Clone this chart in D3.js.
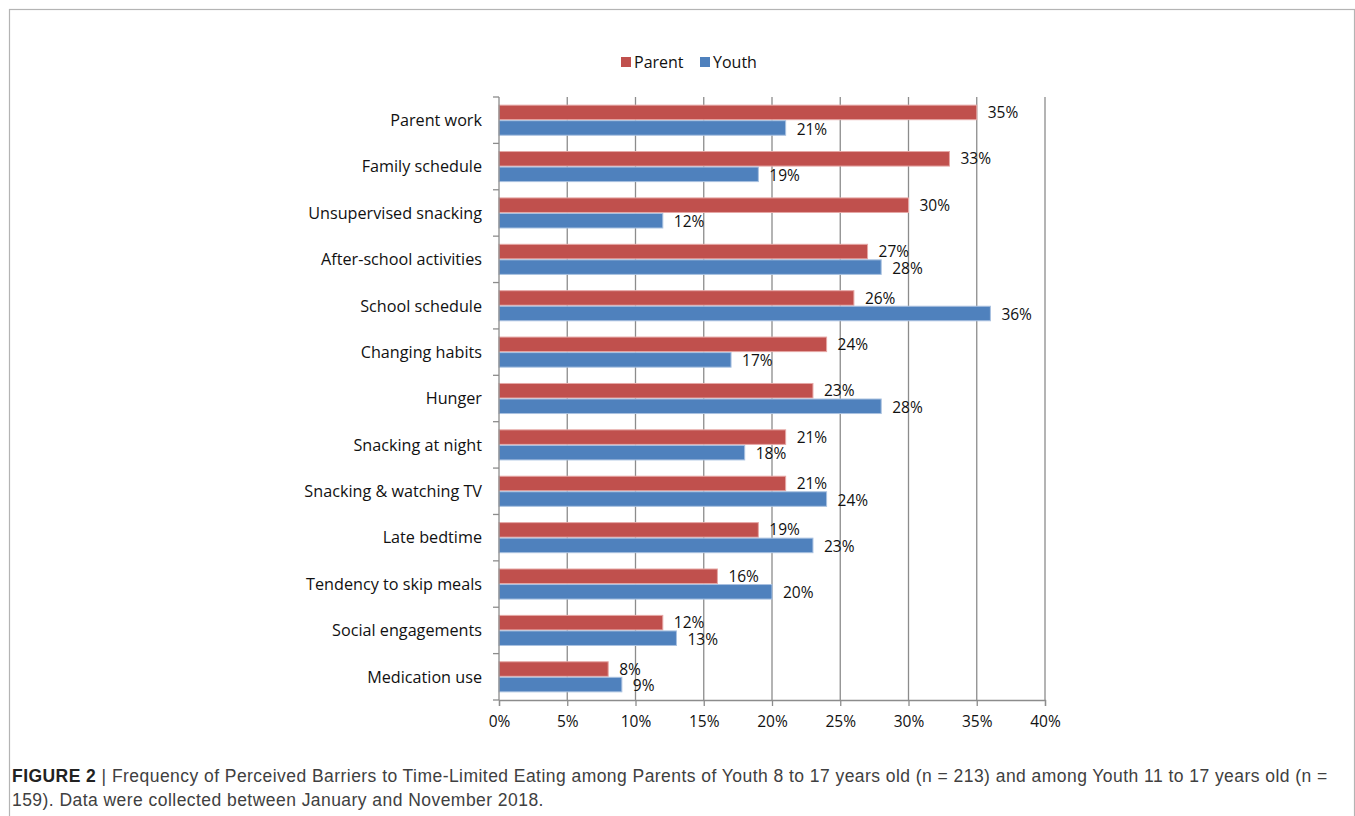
<!DOCTYPE html>
<html>
<head>
<meta charset="utf-8">
<script src="https://cdn.jsdelivr.net/npm/d3@7"></script>
<style>
  body { margin: 0; background: #fff; }
  .chart-text { font-family: "Open Sans", "Noto Sans", sans-serif; }
  .caption-text { font-family: "Liberation Sans", Arial, sans-serif; letter-spacing: 0.45px; }
</style>
</head>
<body>
<div id="chart"></div>
<script>
const categories = ["Parent work", "Family schedule", "Unsupervised snacking", "After-school activities",
  "School schedule", "Changing habits", "Hunger", "Snacking at night", "Snacking & watching TV",
  "Late bedtime", "Tendency to skip meals", "Social engagements", "Medication use"]
const parentValues = [35, 33, 30, 27, 26, 24, 23, 21, 21, 19, 16, 12, 8]
const youthValues = [21, 19, 12, 28, 36, 17, 28, 18, 24, 23, 20, 13, 9]
const seriesNames = ["Parent", "Youth"]
const xTicks = [0, 5, 10, 15, 20, 25, 30, 35, 40]

const width = 1355
const height = 816
const colors = { Parent: "#C0504D", Youth: "#4F81BD" }
const strokes = { Parent: "#E6A7A5", Youth: "#A9C1E0" }

let svg = d3.select("#chart").append("svg")
  .attr("width", width)
  .attr("height", height)

// frame around the figure
svg.append("rect")
  .attr("x", 9.5).attr("y", 9.5)
  .attr("width", 1345).attr("height", 830)
  .attr("fill", "none")
  .attr("stroke", "#b4b4b4")
  .attr("stroke-width", 1.2)

const plotLeft = 499, plotRight = 1045, plotTop = 97, plotBottom = 700

let x = d3.scaleLinear().domain([0, 40]).range([plotLeft, plotRight])
let y = d3.scaleBand().domain(categories).range([plotTop, plotBottom])
  .paddingInner(0.33).paddingOuter(0.165)
let ySub = d3.scaleBand().domain(seriesNames).range([0, y.bandwidth()])

// vertical gridlines
svg.append("g")
  .selectAll("line")
  .data(xTicks.slice(1))
  .join("line")
  .attr("x1", d => x(d)).attr("x2", d => x(d))
  .attr("y1", plotTop).attr("y2", plotBottom)
  .attr("stroke", "#8c8c8c")
  .attr("stroke-width", 1.3)

let rows = categories.map((c, i) => ({ cat: c, Parent: parentValues[i], Youth: youthValues[i] }))

let groups = svg.append("g")
  .selectAll("g")
  .data(rows)
  .join("g")
  .attr("transform", d => "translate(0," + y(d.cat) + ")")

seriesNames.forEach(s => {
  groups.append("rect")
    .attr("x", x(0))
    .attr("y", ySub(s) + 0.5)
    .attr("width", d => x(d[s]) - x(0))
    .attr("height", ySub.bandwidth() - 1)
    .attr("fill", colors[s])
    .attr("stroke", strokes[s])
    .attr("stroke-width", 1)

  groups.append("text")
    .attr("class", "chart-text")
    .attr("x", d => x(d[s]) + 11)
    .attr("y", ySub(s) + ySub.bandwidth() / 2 + (s === "Parent" ? 0 : 1))
    .attr("dy", "0.36em")
    .attr("font-size", 15.5)
    .attr("fill", "#111")
    .text(d => d[s] + "%")
})

// x axis
let xAxis = svg.append("g")
  .attr("transform", "translate(0," + plotBottom + ")")
  .call(d3.axisBottom(x).tickValues(xTicks).tickFormat(d => d + "%").tickSize(6).tickPadding(10))
xAxis.select(".domain").attr("stroke", "#8c8c8c").attr("stroke-width", 1.3)
xAxis.selectAll(".tick line").attr("stroke", "#8c8c8c").attr("stroke-width", 1.3)
xAxis.selectAll(".tick text")
  .attr("class", "chart-text")
  .attr("font-size", 15.5).attr("fill", "#111")
  .attr("font-family", null)

// y axis line with ticks at band boundaries
let yAxis = svg.append("g")
yAxis.append("line")
  .attr("x1", plotLeft).attr("x2", plotLeft)
  .attr("y1", plotTop).attr("y2", plotBottom)
  .attr("stroke", "#8c8c8c").attr("stroke-width", 1.3)
yAxis.selectAll("line.tk")
  .data(d3.range(categories.length + 1))
  .join("line")
  .attr("class", "tk")
  .attr("x1", plotLeft - 6).attr("x2", plotLeft)
  .attr("y1", i => plotTop + i * y.step()).attr("y2", i => plotTop + i * y.step())
  .attr("stroke", "#8c8c8c").attr("stroke-width", 1.3)
yAxis.selectAll("text")
  .data(categories)
  .join("text")
  .attr("class", "chart-text")
  .attr("x", plotLeft - 17)
  .attr("y", d => y(d) + y.bandwidth() / 2)
  .attr("dy", "0.36em")
  .attr("text-anchor", "end")
  .attr("font-size", 16.2)
  .attr("fill", "#111")
  .text(d => d)

// legend
let legend = svg.append("g").attr("transform", "translate(621,56)")
let legendX = [0, 79]
seriesNames.forEach((s, i) => {
  let row = legend.append("g").attr("transform", "translate(" + legendX[i] + ",0)")
  row.append("rect")
    .attr("width", 10).attr("height", 10)
    .attr("y", 1)
    .attr("fill", colors[s])
  row.append("text")
    .attr("class", "chart-text")
    .attr("x", 13).attr("y", 6)
    .attr("dy", "0.36em")
    .attr("font-size", 16)
    .attr("fill", "#111")
    .text(s)
})

// caption
let caption = svg.append("g")
  .attr("font-size", 17.5)
  .attr("fill", "#404040")
let line1 = caption.append("text").attr("class", "caption-text").attr("x", 12).attr("y", 782)
line1.append("tspan").attr("font-weight", "bold").attr("fill", "#222").text("FIGURE 2")
line1.append("tspan").text(" | Frequency of Perceived Barriers to Time-Limited Eating among Parents of Youth 8 to 17 years old (n = 213) and among Youth 11 to 17 years old (n =")
caption.append("text").attr("class", "caption-text").attr("x", 12).attr("y", 806)
  .text("159). Data were collected between January and November 2018.")
</script>
</body>
</html>
